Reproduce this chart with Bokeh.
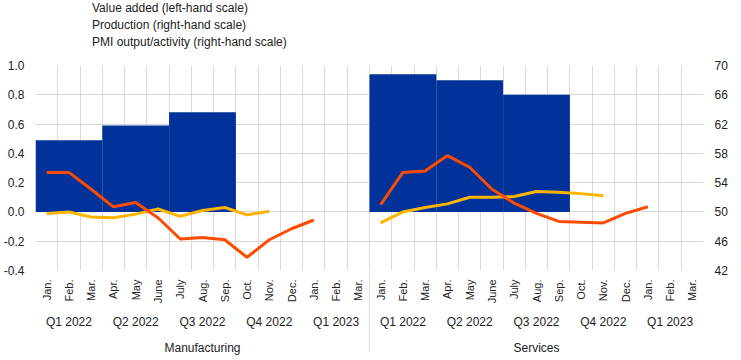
from bokeh.plotting import figure
from bokeh.layouts import column
from bokeh.models import (FactorRange, Range1d, LinearAxis, FixedTicker, Legend, LegendItem,
                          NumeralTickFormatter)
from bokeh.embed import file_html
from bokeh.resources import INLINE

sectors = ["Manufacturing", "Services"]
quarters = ["Q1 2022", "Q2 2022", "Q3 2022", "Q4 2022", "Q1 2023"]
months = ["Jan.", "Feb.", "Mar.", "Apr.", "May", "June", "July", "Aug.", "Sep.",
          "Oct.", "Nov.", "Dec.", "Jan.", "Feb.", "Mar."]

value_added_manuf = [0.49, 0.59, 0.68]
value_added_serv = [0.94, 0.90, 0.80]
production_manuf = [49.8, 50.0, 49.3, 49.2, 49.7, 50.4, 49.4, 50.2, 50.6, 49.6, 50.1]
production_serv = [48.5, 50.0, 50.6, 51.1, 52.0, 52.0, 52.1, 52.8, 52.7, 52.5, 52.2]
pmi_manuf = [55.4, 55.4, 53.1, 50.7, 51.3, 49.2, 46.3, 46.5, 46.2, 43.8, 46.2, 47.7, 48.9]
pmi_serv = [51.0, 55.4, 55.6, 57.7, 56.1, 53.1, 51.2, 49.8, 48.7, 48.6, 48.5, 49.8, 50.7]

left_ticks = [-0.4, -0.2, 0.0, 0.2, 0.4, 0.6, 0.8, 1.0]
right_ticks = [42, 46, 50, 54, 58, 62, 66, 70]

BLUE = "#003299"
YELLOW = "#ffb400"
ORANGE = "#ff4b00"
GRID = "#d9d9d9"
FONT = "Liberation Sans"
TXT = "#222222"

factors = [(s, quarters[i // 3], m) for s in sectors for i, m in enumerate(months)]
n = len(factors)
xr = FactorRange(factors=factors, factor_padding=0, subgroup_padding=0,
                 group_padding=0, range_padding=0)

p = figure(x_range=xr, y_range=Range1d(left_ticks[0], left_ticks[-1]),
           width=741, height=301, output_backend="svg", toolbar_location=None,
           min_border_left=35, min_border_right=38, min_border_top=8, min_border_bottom=81)
p.extra_y_ranges = {"rhs": Range1d(right_ticks[0], right_ticks[-1])}
p.outline_line_color = None
p.background_fill_color = "white"
p.border_fill_color = "white"

# grids
p.ygrid.ticker = FixedTicker(ticks=left_ticks)
p.ygrid.grid_line_color = GRID
p.xgrid.ticker = FixedTicker(ticks=list(range(n + 1)))
p.xgrid.grid_line_color = GRID

def style_num_axis(ax):
    ax.axis_line_color = None
    ax.major_tick_line_color = None
    ax.minor_tick_line_color = None
    ax.major_tick_out = 0
    ax.major_tick_in = 0
    ax.minor_tick_out = 0
    ax.minor_tick_in = 0
    ax.major_label_standoff = 11
    ax.major_label_text_font = FONT
    ax.major_label_text_font_size = "12px"
    ax.major_label_text_color = TXT

la = p.yaxis[0]
la.ticker = FixedTicker(ticks=left_ticks)
la.formatter = NumeralTickFormatter(format="0.0")
style_num_axis(la)

ra = LinearAxis(y_range_name="rhs", ticker=FixedTicker(ticks=right_ticks))
style_num_axis(ra)
p.add_layout(ra, "right")

xa = p.xaxis[0]
xa.axis_line_color = None
xa.major_tick_line_color = None
xa.minor_tick_line_color = None
xa.major_tick_out = 0
xa.major_tick_in = 0
xa.major_label_standoff = 9
xa.major_label_orientation = 1.5708
xa.major_label_text_font = FONT
xa.major_label_text_font_size = "11px"
xa.major_label_text_color = TXT
xa.subgroup_text_font = FONT
xa.subgroup_text_font_size = "12px"
xa.subgroup_text_font_style = "normal"
xa.subgroup_text_color = TXT
xa.group_text_font = FONT
xa.group_text_font_size = "12px"
xa.group_text_font_style = "normal"
xa.group_text_color = TXT
xa.separator_line_color = GRID
xa.separator_line_width = 1

# bars
bar_x = [(s, q) for s, vals in zip(sectors, [value_added_manuf, value_added_serv])
         for q in quarters[:len(vals)]]
bar_top = value_added_manuf + value_added_serv
p.vbar(x=bar_x, top=bar_top, bottom=0, width=3, fill_color=BLUE, line_color=None)

def xs(sector, count):
    return [(sector, quarters[i // 3], months[i]) for i in range(count)]

for s, prod, pmi in [("Manufacturing", production_manuf, pmi_manuf),
                     ("Services", production_serv, pmi_serv)]:
    p.line(x=xs(s, len(prod)), y=prod, y_range_name="rhs", line_color=YELLOW, line_width=3)
    p.line(x=xs(s, len(pmi)), y=pmi, y_range_name="rhs", line_color=ORANGE, line_width=3)

# legend strip above the chart (its own small figure, no data drawn)
lf = figure(width=741, height=57, output_backend="svg", toolbar_location=None,
            x_range=Range1d(0, 1), y_range=Range1d(0, 1),
            x_axis_location=None, y_axis_location=None, min_border=0)
lf.grid.visible = False
lf.outline_line_color = None
lf.background_fill_color = "white"
lf.border_fill_color = "white"
k1 = lf.vbar(x=[], top=[], width=0.1, fill_color=BLUE, line_color=None)
k2 = lf.line(x=[], y=[], line_color=YELLOW, line_width=3)
k3 = lf.line(x=[], y=[], line_color=ORANGE, line_width=3)

legend = Legend(items=[
    LegendItem(label="Value added (left-hand scale)", renderers=[k1]),
    LegendItem(label="Production (right-hand scale)", renderers=[k2]),
    LegendItem(label="PMI output/activity (right-hand scale)", renderers=[k3]),
], location=(35, 8))
legend.padding = 0
legend.margin = 0
legend.spacing = 3
legend.label_height = 14
legend.glyph_height = 10
legend.glyph_width = 10
legend.label_standoff = 12
legend.label_text_font = FONT
legend.label_text_font_size = "12px"
legend.label_text_color = TXT
legend.border_line_color = None
legend.background_fill_alpha = 0
lf.add_layout(legend, "center")

layout = column(lf, p, spacing=0)
open("out.html", "w").write(file_html(layout, INLINE))
